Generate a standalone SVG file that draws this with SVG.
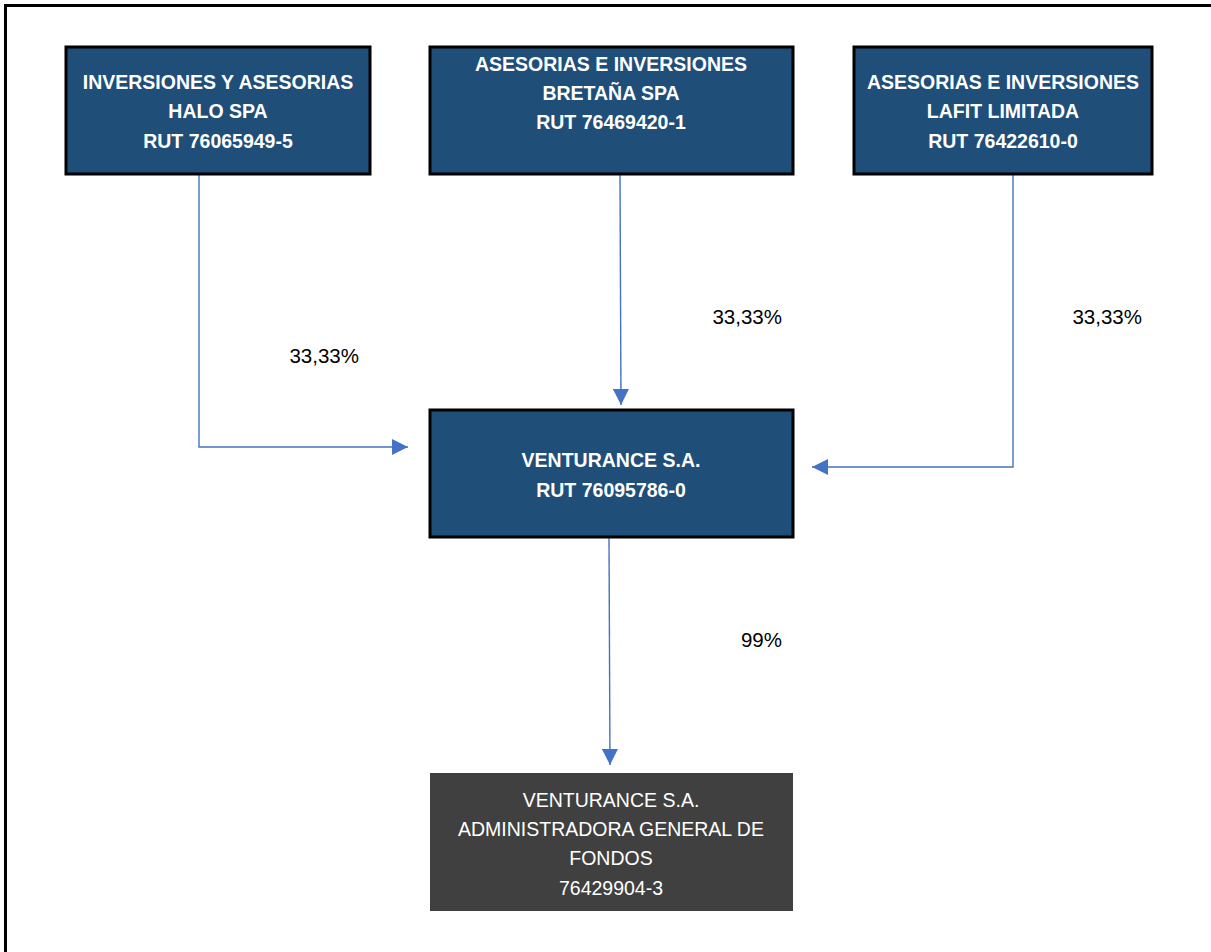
<svg xmlns="http://www.w3.org/2000/svg" width="1211" height="952" viewBox="0 0 1211 952">
<style>
.box{fill:#1F4E79;stroke:#000;stroke-width:3}
.dark{fill:#404040}
.t{font-family:"Liberation Sans",Arial,sans-serif;font-size:19.5px;fill:#fff;text-anchor:middle}
.b{font-weight:bold}
.lbl{font-family:"Liberation Sans",Arial,sans-serif;font-size:20.5px;fill:#000;text-anchor:end}
.c{fill:none;stroke:#4472C4;stroke-width:1.4}
</style>
<defs>
<marker id="ah" viewBox="0 0 16 16" refX="16" refY="8" markerWidth="16" markerHeight="16" markerUnits="userSpaceOnUse" orient="auto">
<path d="M0,0 L16,8 L0,16 Z" fill="#4472C4"/>
</marker>
</defs>
<rect x="0" y="0" width="1211" height="952" fill="#fff"/>
<rect x="5.5" y="5.5" width="1230" height="970" fill="none" stroke="#000" stroke-width="3"/>
<g id="connectors">
<path class="c" d="M199,174 V447 H408" marker-end="url(#ah)"/>
<path class="c" d="M620,174 L621,405" marker-end="url(#ah)"/>
<path class="c" d="M1013,174 V467 H812" marker-end="url(#ah)"/>
<path class="c" d="M609,537 L610,765" marker-end="url(#ah)"/>
<text class="lbl" x="359" y="363">33,33%</text>
<text class="lbl" x="782" y="324">33,33%</text>
<text class="lbl" x="1142" y="324">33,33%</text>
<text class="lbl" x="782" y="647">99%</text>
</g>
<g id="halo">
<rect class="box" x="66" y="47" width="304" height="127"/>
<text class="t b" x="218" y="89">INVERSIONES Y ASESORIAS</text>
<text class="t b" x="218" y="118">HALO SPA</text>
<text class="t b" x="218" y="148">RUT 76065949-5</text>
</g>
<g id="bretana">
<rect class="box" x="430" y="47" width="363" height="127"/>
<text class="t b" x="611" y="71">ASESORIAS E INVERSIONES</text>
<text class="t b" x="611" y="100">BRETAÑA SPA</text>
<text class="t b" x="611" y="129">RUT 76469420-1</text>
</g>
<g id="lafit">
<rect class="box" x="854" y="47" width="298" height="127"/>
<text class="t b" x="1003" y="89">ASESORIAS E INVERSIONES</text>
<text class="t b" x="1003" y="118">LAFIT LIMITADA</text>
<text class="t b" x="1003" y="148">RUT 76422610-0</text>
</g>
<g id="venturance">
<rect class="box" x="430" y="410" width="363" height="127"/>
<text class="t b" x="611" y="467">VENTURANCE S.A.</text>
<text class="t b" x="611" y="497">RUT 76095786-0</text>
</g>
<g id="agf">
<rect class="dark" x="430" y="773" width="363" height="138"/>
<text class="t" x="611" y="807">VENTURANCE S.A.</text>
<text class="t" x="611" y="836">ADMINISTRADORA GENERAL DE</text>
<text class="t" x="611" y="865">FONDOS</text>
<text class="t" x="611" y="895">76429904-3</text>
</g>
</svg>
